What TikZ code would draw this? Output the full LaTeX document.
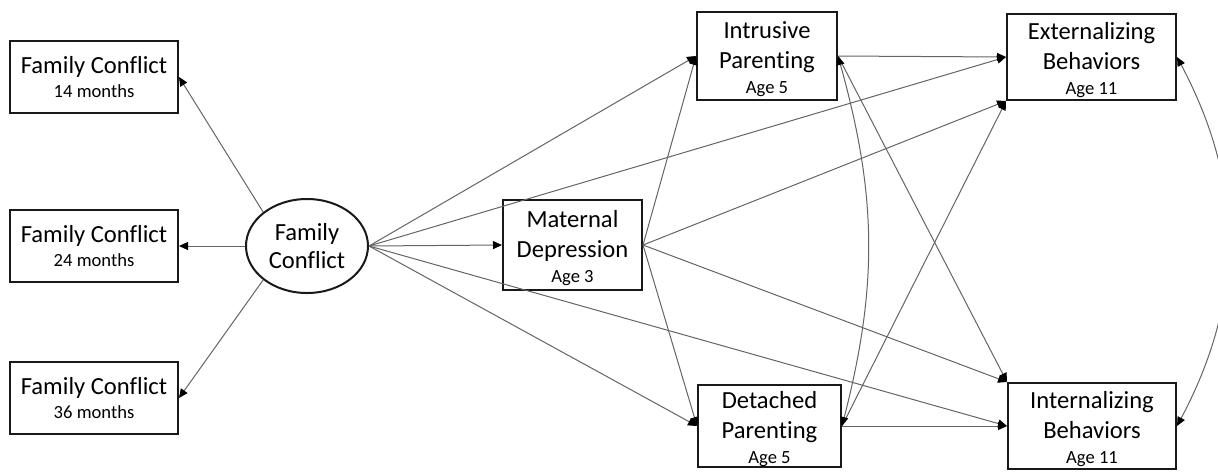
\documentclass[tikz,border=0pt]{standalone}
\usepackage{fontspec}
\setmainfont{Carlito}[Ligatures=NoCommon]
\usepackage{tikz}
\usetikzlibrary{arrows.meta,shapes.geometric}
\definecolor{semInk}{RGB}{25,25,25}
\definecolor{semPath}{RGB}{100,100,100}
\newcommand{\agefont}{\fontsize{9.3}{11}\selectfont}

\begin{document}
\begin{tikzpicture}[x=.5pt,y=-.5pt]
\tikzset{
var/.style={draw=semInk,line width=1pt,fill=white,align=center,inner sep=0pt,
font=\fontsize{12.3}{15}\selectfont,text=black},
lat/.style={ellipse,draw=semInk,line width=1pt,fill=white,align=center,inner sep=0pt,
font=\fontsize{12.3}{14}\selectfont,text=black,minimum width=61pt,minimum height=47pt},
reg/.style={draw=semPath,line width=.5pt,-{Triangle[length=4.5pt,width=4pt,color=black]}},
cov/.style={draw=semPath,line width=.5pt,{Triangle[length=4.5pt,width=4pt,color=black]}-{Triangle[length=4.5pt,width=4pt,color=black]}}
}
\useasboundingbox (0,0) rectangle (1218,472);
\foreach \n/\y/\lab in {fcA/77/14,fcB/246/24,fcC/398/36}
  \node[var,minimum width=84pt,minimum height=36pt] (\n) at (94,\y) {Family Conflict\\[-3pt]{\agefont \lab\ months}};
\node[lat] (fam) at (307,246) {Family\\Conflict};
\node[var,minimum width=69.5pt,minimum height=45pt] (md) at (572.5,245) {\rule{0pt}{12pt}Maternal\\Depression\\[-2.5pt]{\agefont Age 3}};
\node[var,minimum width=70pt,minimum height=44pt] (ip) at (767,56) {\rule{0pt}{12pt}Intrusive\\Parenting\\[-2.5pt]{\agefont Age 5}};
\node[var,minimum width=71.5pt,minimum height=41pt] (dp) at (769.5,426) {\rule{0pt}{12pt}Detached\\Parenting\\[-2.5pt]{\agefont Age 5}};
\node[var,minimum width=84.5pt,minimum height=43pt] (eb) at (1091.5,57) {\rule{0pt}{12pt}Externalizing\\Behaviors\\[-2.5pt]{\agefont Age 11}};
\node[var,minimum width=84pt,minimum height=43pt] (ib) at (1092,426) {\rule{0pt}{12pt}Internalizing\\Behaviors\\[-2.5pt]{\agefont Age 11}};
\foreach \a/\b in {fam.north west/fcA.east,fam.west/fcB.east,fam.south west/fcC.east,
  fam.east/ip.west,fam.east/eb.west,fam.east/md.west,fam.east/ib.west,fam.east/dp.west,
  md.east/ip.west,md.east/eb.south west,md.east/ib.north west,md.east/dp.west,
  ip.east/eb.west,ip.east/ib.north west,dp.east/eb.south west,dp.east/ib.west}
  \draw[reg] (\a) -- (\b);
\draw[cov] (ip.east) to[bend left=15] (dp.east);
\draw[cov] (eb.east) to[bend left=28] (ib.east);
\end{tikzpicture}
\end{document}
